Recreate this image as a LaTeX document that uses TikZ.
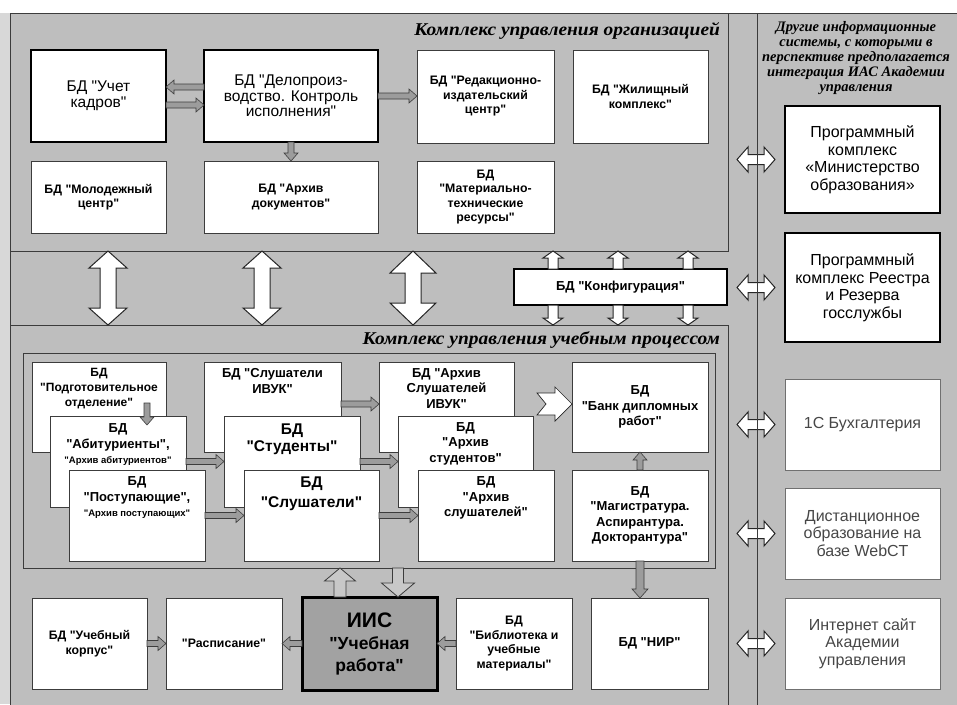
\documentclass[tikz,border=0pt]{standalone}
\usepackage{fontspec}
\setmainfont{Liberation Sans}[Ligatures=TeXOff]
\newfontfamily\tms{Liberation Serif}
\usetikzlibrary{calc}
\definecolor{bg}{HTML}{BEBEBE}
\definecolor{lstrip}{HTML}{D8D8D8}
\definecolor{arrg}{HTML}{9C9C9C}
\definecolor{iisg}{HTML}{A2A2A2}
\definecolor{edge}{HTML}{3C3C3C}
\definecolor{softedge}{HTML}{707070}
\definecolor{softtxt}{HTML}{474747}
\newcommand\fsm{\bfseries\fontsize{12.3}{14.5}\selectfont}
\newcommand\fmd{\bfseries\fontsize{13}{15.5}\selectfont}
\newcommand\flg{\fontsize{15.5}{15.5}\selectfont}
\newcommand\flgb{\bfseries\fontsize{15.5}{17.5}\selectfont}
\newcommand\frt{\fontsize{16}{17.5}\selectfont}
\newcommand\fttl{\tms\bfseries\itshape\fontsize{18}{20}\selectfont}
\tikzset{
 frame/.style={draw=edge, fill=bg, line width=0.8pt, inner sep=0pt, outer sep=0pt},
 box/.style={draw=edge, fill=white, line width=0.8pt, inner sep=0pt, outer sep=0pt, align=center, font=\fsm},
 tbox/.style={box, draw=black, line width=2pt},
 sbox/.style={box, draw=softedge, line width=0.8pt, text=softtxt, font=\frt},
 txt/.style={inner sep=0pt, outer sep=0pt, align=center},
 sarr/.style={draw=edge, fill=arrg, line width=0.6pt, line join=miter},
 marr/.style={draw=edge, fill=bg!85!white, line width=0.8pt},
 warr/.style={draw=black!85, fill=white, line width=1pt},
}
% box from corner (x1,y1) to (x2,y2), in picture units
\newcommand\bx[7]{%
 \pgfmathsetmacro\bw{#4-#2}\pgfmathsetmacro\bh{#5-#3}%
 \pgfmathsetmacro\bcx{(#2+#4)/2}\pgfmathsetmacro\bcy{(#3+#5)/2}%
 \node[#6, minimum width=\bw pt, minimum height=\bh pt] (#1) at (\bcx,\bcy) {#7};}
% text placed at the top of a box
\newcommand\tx[5]{\node[txt, anchor=north, font=#4] (#1) at ([yshift=-#3pt]#2.north) {#5};}
% single block arrow: style, from, to, shaft half width, head half width, head length
\newcommand\barrow[6][]{%
 \draw[#1] let \p1=#2, \p2=#3, \n1={atan2(\y2-\y1,\x2-\x1)}, \n2={veclen(\x2-\x1,\y2-\y1)} in
 [shift={(\x1,\y1)}, rotate=\n1]
 (0pt,#4pt) -- ({\n2*1pt-#6pt},#4pt) -- ({\n2*1pt-#6pt},#5pt) -- ({\n2*1pt},0pt)
 -- ({\n2*1pt-#6pt},-#5pt) -- ({\n2*1pt-#6pt},-#4pt) -- (0pt,-#4pt) -- cycle;}
% double block arrow
\newcommand\dbarrow[6][]{%
 \draw[#1] let \p1=#2, \p2=#3, \n1={atan2(\y2-\y1,\x2-\x1)}, \n2={veclen(\x2-\x1,\y2-\y1)} in
 [shift={(\x1,\y1)}, rotate=\n1]
 (0pt,0pt) -- (#6pt,#5pt) -- (#6pt,#4pt) -- ({\n2*1pt-#6pt},#4pt) -- ({\n2*1pt-#6pt},#5pt) -- ({\n2*1pt},0pt)
 -- ({\n2*1pt-#6pt},-#5pt) -- ({\n2*1pt-#6pt},-#4pt) -- (#6pt,-#4pt) -- (#6pt,-#5pt) -- cycle;}
% notched arrow
\newcommand\narrow[7][]{%
 \draw[#1] let \p1=#2, \p2=#3, \n1={atan2(\y2-\y1,\x2-\x1)}, \n2={veclen(\x2-\x1,\y2-\y1)} in
 [shift={(\x1,\y1)}, rotate=\n1]
 (0pt,#4pt) -- ({\n2*1pt-#6pt},#4pt) -- ({\n2*1pt-#6pt},#5pt) -- ({\n2*1pt},0pt)
 -- ({\n2*1pt-#6pt},-#5pt) -- ({\n2*1pt-#6pt},-#4pt) -- (0pt,-#4pt) -- (#7pt,0pt) -- cycle;}
\begin{document}
\begin{tikzpicture}[x=1pt,y=-1pt]
\useasboundingbox (0,0) rectangle (957,704);
\fill[white] (0,0) rectangle (957,704);
\fill[lstrip] (0,13) rectangle (10,704);
% frames
\bx{all}{10}{13}{962}{712}{frame}{}
\bx{org}{10}{13}{728}{251}{frame}{}
\bx{edu}{10}{325}{728}{712}{frame}{}
\bx{inner}{23}{353}{715}{568}{frame}{}
\bx{rpan}{757}{13}{962}{712}{frame}{}
% titles
\node[txt, anchor=east, font=\fttl] (t1) at (720,31) {\scalebox{1.08}[1]{Комплекс управления организацией}};
\node[txt, anchor=east, font=\fttl] (t2) at (720,340) {\scalebox{1.08}[1]{Комплекс управления учебным процессом}};
\node[txt, font=\tms\bfseries\itshape\fontsize{14.5}{15.2}\selectfont] (t3) at (856,58) {Другие информационные\\системы, с которыми в\\перспективе предполагается\\интеграция ИАС Академии\\управления};
% top complex
\bx{uk}{31}{50}{166}{142}{tbox, font=\flg}{БД "Учет\\кадров"}
\bx{dp}{204}{50}{378}{142}{tbox, font=\flg}{БД "Делопроиз-\\водство. Контроль\\исполнения"}
\bx{ric}{417}{50}{554}{143}{box}{БД "Редакционно-\\издательский\\центр"}
\bx{zk}{573}{50}{708}{143}{box}{БД "Жилищный\\комплекс"}
\bx{mc}{31}{161}{166}{233}{box}{БД "Молодежный\\центр"}
\bx{ad}{204}{161}{378}{233}{box}{БД "Архив\\документов"}
\bx{mtr}{417}{161}{554}{233}{box}{БД\\"Материально-\\технические\\ресурсы"}
\barrow[sarr]{([yshift=9pt]dp.west)}{([yshift=9pt]uk.east)}{3}{7}{8}
\barrow[sarr]{([yshift=-9pt]uk.east)}{([yshift=-9pt]dp.west)}{3}{7}{8}
\barrow[sarr]{(dp.east)}{(ric.west |- dp.east)}{3}{7}{8}
\barrow[sarr]{(dp.south)}{(ad.north)}{3}{7}{8}
% configuration
\bx{cfg}{514}{269}{727}{305}{tbox, font=\fmd}{БД "Конфигурация"}
\coordinate (c1) at (553,0);
\coordinate (c2) at (618,0);
\coordinate (c3) at (688,0);
\foreach \c in {c1,c2,c3}{
 \barrow[warr]{(cfg.north -| \c)}{(org.south -| \c)}{5}{10}{7}
 \barrow[warr]{(cfg.south -| \c)}{(edu.north -| \c)}{5}{10}{7}
}
% big double arrows
\coordinate (v1) at (108,0);
\coordinate (v2) at (262,0);
\coordinate (v3) at (413,0);
\dbarrow[warr]{(org.south -| v1)}{(edu.north -| v1)}{8}{19}{17}
\dbarrow[warr]{(org.south -| v2)}{(edu.north -| v2)}{8}{19}{17}
\dbarrow[warr]{(org.south -| v3)}{(edu.north -| v3)}{8}{23}{22}
% inner frame boxes (back to front)
\bx{pod}{32}{362}{166}{452}{box}{}
\tx{podt}{pod}{6.5}{\bfseries\fontsize{12}{15}\selectfont}{БД\\"Подготовительное\\отделение"}
\bx{siv}{204}{362}{341}{452}{box}{}
\tx{sivt}{siv}{6.5}{\fmd}{БД "Слушатели\\ИВУК"}
\bx{asiv}{379}{362}{514}{452}{box}{}
\tx{asivt}{asiv}{6.5}{\fmd}{БД "Архив\\Слушателей\\ИВУК"}
\bx{bank}{572}{362}{708}{452}{box, font=\fmd}{БД\\"Банк дипломных\\работ"}
\bx{abit}{50}{416}{186}{507}{box}{}
\tx{abitt}{abit}{8}{\fmd}{БД\\"Абитуриенты",\\{\fontsize{9.5}{11}\selectfont "Архив абитуриентов"}}
\bx{stud}{224}{416}{360}{507}{box}{}
\tx{studt}{stud}{7.5}{\flgb}{БД\\"Студенты"}
\bx{ast}{398}{416}{533}{507}{box}{}
\tx{astt}{ast}{6.5}{\fmd}{БД\\"Архив\\студентов"}
\bx{post}{69}{470}{205}{561}{box}{}
\tx{postt}{post}{7}{\fmd}{БД\\"Поступающие",\\{\fontsize{9.5}{11}\selectfont "Архив поступающих"}}
\bx{slu}{244}{470}{379}{561}{box}{}
\tx{slut}{slu}{6.5}{\bfseries\fontsize{15.5}{20}\selectfont}{БД\\"Слушатели"}
\bx{asl}{418}{470}{554}{561}{box}{}
\tx{aslt}{asl}{7}{\fmd}{БД\\"Архив\\слушателей"}
\bx{mag}{572}{470}{708}{561}{box, font=\fmd}{БД\\"Магистратура.\\Аспирантура.\\Докторантура"}
% inner arrows
\coordinate (pa) at (147,403);
\coordinate (pb) at (147,425);
\barrow[sarr]{(pa)}{(pb)}{3}{7}{8}
\coordinate (s1) at ([yshift=3pt]siv.east);
\barrow[sarr]{(s1)}{(s1 -| asiv.west)}{3}{7}{8}
\barrow[sarr]{(abit.east)}{(stud.west)}{3}{7}{8}
\barrow[sarr]{(stud.east)}{(ast.west)}{3}{7}{8}
\barrow[sarr]{(post.east)}{(slu.west)}{3}{7}{8}
\barrow[sarr]{(slu.east)}{(asl.west)}{3}{7}{8}
\barrow[sarr]{(mag.north)}{(bank.south)}{3}{7}{8}
\coordinate (nb) at ([xshift=-35pt,yshift=3pt]bank.west);
\coordinate (ne) at ([yshift=3pt]bank.west);
\narrow[warr, line width=0.7pt]{(nb)}{(ne)}{11}{17}{17}{9}
% bottom row
\bx{uko}{32}{598}{147}{689}{box}{БД "Учебный\\корпус"}
\bx{ras}{166}{598}{282}{689}{box}{"Расписание"}
\bx{iis}{302}{597}{437}{690}{box, draw=black, line width=3pt, fill=iisg, font=\bfseries\fontsize{17.5}{22}\selectfont}{{\fontsize{21}{22}\selectfont ИИС}\\"Учебная\\работа"}
\bx{bib}{456}{598}{572}{689}{box}{БД\\"Библиотека и\\учебные\\материалы"}
\bx{nir}{591}{598}{708}{689}{box, font=\fmd}{БД "НИР"}
\barrow[sarr]{(uko.east)}{(ras.west)}{3}{7}{8}
\barrow[sarr]{(iis.west)}{(ras.east)}{3}{7}{8}
\barrow[sarr]{(bib.west)}{(iis.east)}{3}{7}{8}
\barrow[sarr]{(mag.south)}{(mag.south |- nir.north)}{4}{8}{9}
\coordinate (iu) at ([xshift=-29.5pt]iis.north);
\coordinate (id) at ([xshift=28.5pt]iis.north);
\barrow[marr]{(iu)}{(iu |- inner.south)}{6}{15.5}{13}
\barrow[marr]{(id |- inner.south)}{(id)}{5.5}{16.5}{14}
% right panel boxes
\bx{min}{785}{106}{940}{213}{tbox, font=\frt, line width=2pt}{Программный\\комплекс\\«Министерство\\образования»}
\bx{rr}{785}{233}{940}{342}{tbox, font=\frt, line width=2pt}{Программный\\комплекс Реестра\\и Резерва\\госслужбы}
\bx{buh}{785}{379}{940}{470}{sbox}{1С Бухгалтерия}
\bx{dist}{785}{488}{940}{579}{sbox}{Дистанционное\\образование на\\базе WebCT}
\bx{inet}{785}{598}{940}{689}{sbox}{Интернет сайт\\Академии\\управления}
\foreach \r in {min,rr,buh,dist,inet}{
 \coordinate (\r a) at ([xshift=-48pt]\r.west);
 \coordinate (\r b) at ([xshift=-10pt]\r.west);
 \dbarrow[warr]{(\r a)}{(\r b)}{5}{12.5}{11}
}
\draw[edge, line width=0.8pt] (rpan.north west) -- (rpan.south west);
\end{tikzpicture}
\end{document}
